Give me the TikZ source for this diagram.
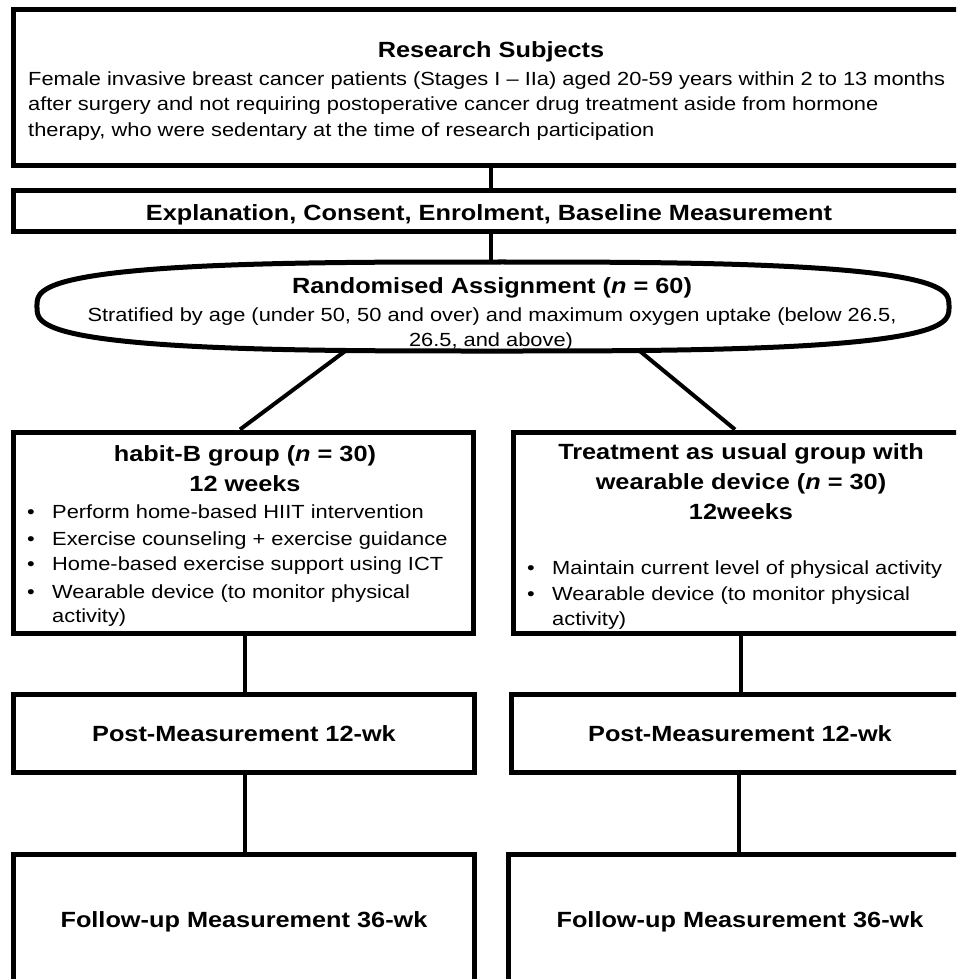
\documentclass[tikz,border=0pt]{standalone}
\usepackage{fontspec}
\setmainfont{Liberation Sans}[FakeStretch=1.15]
\usetikzlibrary{calc}
\begin{document}
\begin{tikzpicture}[x=1pt,y=-1pt,
  box/.style={draw,line width=5pt,rectangle,inner sep=0pt},
  ovalline/.style={line width=5pt},
  link/.style={line width=4pt},
  body/.style={inner sep=0pt,font=\fontsize{19}{25}\selectfont},
  head/.style={inner sep=0pt,font=\fontsize{22}{26}\selectfont\bfseries}]
\useasboundingbox (0,0) rectangle (956,979);
\clip (0,0) rectangle (956,979);
% boxes
\node[box,minimum width=955.5pt,minimum height=155.5pt] (top) at (491.25,87.25) {};
\node[box,minimum width=955.5pt,minimum height=40.5pt] (expl) at (491.25,210.75) {};
\node[inner sep=0pt,minimum width=912pt,minimum height=89pt] (rand) at (493,306.5) {};
\draw[ovalline] plot[domain=0.5:360.5,samples=181,smooth]
  ({493+456*sign(cos(\x))*pow(abs(cos(\x)),0.667)},{306.5+44.5*sign(sin(\x))*pow(abs(sin(\x)),0.667)}) -- cycle;
\node[box,minimum width=460pt,minimum height=201pt] (lbox) at (243.75,532.5) {};
\node[box,minimum width=456pt,minimum height=201pt] (rbox) at (741,532.5) {};
\node[box,minimum width=460.5pt,minimum height=78pt] (lpost) at (243.75,733) {};
\node[box,minimum width=458pt,minimum height=78pt] (rpost) at (740,733) {};
\node[box,minimum width=460.5pt,minimum height=160pt] (lfol) at (243.75,934) {};
\node[box,minimum width=461pt,minimum height=160pt] (rfol) at (738.5,934) {};
% connectors
\draw[link] (top.south -| 491,0) -- (expl.north -| 491,0);
\draw[link] (expl.south -| 491,0) -- (rand.north -| 491,0);
\coordinate (rl) at ($(rand.south)+(-148,0)$);
\coordinate (rr) at ($(rand.south)+(147,0)$);
\draw[link] (rl) -- (lbox.north -| 240,0);
\draw[link] (rr) -- (rbox.north -| 735,0);
\draw[link] (lbox.south -| 245,0) -- (lpost.north -| 245,0);
\draw[link] (rbox.south -| 741,0) -- (rpost.north -| 741,0);
\draw[link] (lpost.south -| 245,0) -- (lfol.north -| 245,0);
\draw[link] (rpost.south -| 739,0) -- (rfol.north -| 739,0);
% texts
\node[head,anchor=base] (t1) at (491,58) {Research Subjects};
\node[body,anchor=base west] (t2) at (28,86) {Female invasive breast cancer patients (Stages I – IIa) aged 20-59 years within 2 to 13 months};
\node[body,anchor=base west] (t3) at (28,111) {after surgery and not requiring postoperative cancer drug treatment aside from hormone};
\node[body,anchor=base west] (t4) at (28,136) {therapy, who were sedentary at the time of research participation};
\node[head,anchor=base] (e1) at (489,220) {Explanation, Consent, Enrolment, Baseline Measurement};
\node[head,anchor=base] (r1) at (492,293) {Randomised Assignment (\textit{n} = 60)};
\node[body,anchor=base] (r2) at (492,321.5) {Stratified by age (under 50, 50 and over) and maximum oxygen uptake (below 26.5,};
\node[body,anchor=base] (r3) at (491,346.5) {26.5, and above)};
% left group
\node[head,anchor=base] (lh1) at (245,461.5) {habit-B group (\textit{n} = 30)};
\node[head,anchor=base] (lh2) at (245,491.5) {12 weeks};
\foreach \y/\s [count=\i] in {518.3/Perform home-based HIIT intervention,545.7/Exercise counseling + exercise guidance,570.7/Home-based exercise support using ICT,598.3/Wearable device (to monitor physical}{
  \node[body,anchor=base west] (lbb\i) at (27,\y) {•};
  \node[body,anchor=base west] (lbt\i) at (52,\y) {\s};
}
\node[body,anchor=base west] (lbt5) at (52,622.7) {activity)};
% right group
\node[head,anchor=base] (rh1) at (741,459.5) {Treatment as usual group with};
\node[head,anchor=base] (rh2) at (741,489.5) {wearable device (\textit{n} = 30)};
\node[head,anchor=base] (rh3) at (741,519) {12weeks};
\foreach \y/\s [count=\i] in {574.5/Maintain current level of physical activity,600/Wearable device (to monitor physical}{
  \node[body,anchor=base west] (rbb\i) at (527,\y) {•};
  \node[body,anchor=base west] (rbt\i) at (552,\y) {\s};
}
\node[body,anchor=base west] (rbt3) at (552,625) {activity)};
% measurements
\node[head,anchor=base] (p1) at (244,741.7) {Post-Measurement 12-wk};
\node[head,anchor=base] (p2) at (740,741.7) {Post-Measurement 12-wk};
\node[head,anchor=base] (f1) at (244,927.7) {Follow-up Measurement 36-wk};
\node[head,anchor=base] (f2) at (740,927.7) {Follow-up Measurement 36-wk};
\end{tikzpicture}
\end{document}
